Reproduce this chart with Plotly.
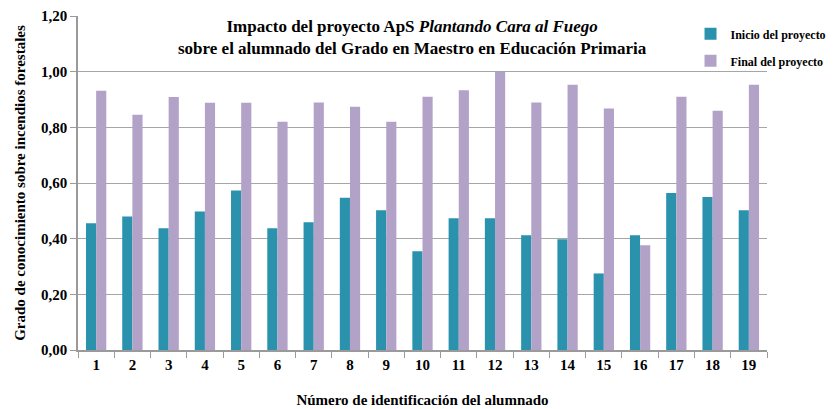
import plotly.graph_objects as go

alumnos = [str(i) for i in range(1, 20)]
inicio = [0.455, 0.48, 0.437, 0.498, 0.573, 0.437, 0.459, 0.547, 0.502, 0.355,
          0.473, 0.473, 0.412, 0.398, 0.275, 0.412, 0.564, 0.55, 0.502]
final = [0.931, 0.845, 0.909, 0.888, 0.888, 0.82, 0.889, 0.874, 0.82, 0.91,
         0.933, 1.0, 0.889, 0.953, 0.868, 0.376, 0.91, 0.86, 0.953]
yticks = [0, 0.2, 0.4, 0.6, 0.8, 1.0, 1.2]

FONT = "Liberation Serif"

fig = go.Figure()
fig.add_trace(go.Bar(x=alumnos, y=inicio, name="Inicio del proyecto",
                     marker=dict(color="#2a92ad", line=dict(width=0)),
                     legendgroup="a"))
fig.add_trace(go.Bar(x=alumnos, y=final, name="Final del proyecto",
                     marker=dict(color="#b2a2c8", line=dict(width=0)),
                     legendgroup="b"))

fig.update_layout(
    width=838, height=409,
    margin=dict(l=70, r=79, t=8, b=67),
    paper_bgcolor="white", plot_bgcolor="white",
    separators=",.",
    barmode="group", bargap=0.44, bargroupgap=0,
    font=dict(family=FONT, color="black", weight="bold"),
    showlegend=True,
    legend=dict(x=0.889, y=0.99, xanchor="left", yanchor="top",
                font=dict(family=FONT, size=12, color="black", weight="bold"),
                tracegroupgap=8, bgcolor="rgba(0,0,0,0)",
                traceorder="grouped"),
    xaxis=dict(type="category", showgrid=False, showline=True, automargin=False,
               linecolor="#9a9a9a", linewidth=1.5,
               ticks="outside", tickson="boundaries", ticklen=6,
               tickcolor="#9a9a9a",
               tickfont=dict(family=FONT, size=15, color="black", weight="bold"),
               title=dict(text="Número de identificación del alumnado",
                          font=dict(family=FONT, size=15, color="black", weight="bold"),
                          standoff=23)),
    yaxis=dict(range=[0, 1.2], tickvals=yticks, tickformat=".2f", automargin=False,
               showgrid=True, gridcolor="#a6a6a6", gridwidth=1,
               showline=True, linecolor="#9a9a9a", linewidth=1.5,
               ticks="outside", ticklen=6, tickcolor="#9a9a9a",
               zeroline=False,
               tickfont=dict(family=FONT, size=15, color="black", weight="bold"),
               title=dict(text="Grado de conocimiento sobre incendios forestales",
                          font=dict(family=FONT, size=15, color="black", weight="bold"),
                          standoff=12)),
)

fig.add_annotation(
    xref="paper", yref="paper", x=0.485, y=0.935, xanchor="center", yanchor="middle",
    text="Impacto del proyecto ApS <i>Plantando Cara al Fuego</i><br>"
         "sobre el alumnado del Grado en Maestro en Educación Primaria",
    showarrow=False, font=dict(family=FONT, size=17, color="black", weight="bold"),
    align="center")

fig.write_html("out.html")
